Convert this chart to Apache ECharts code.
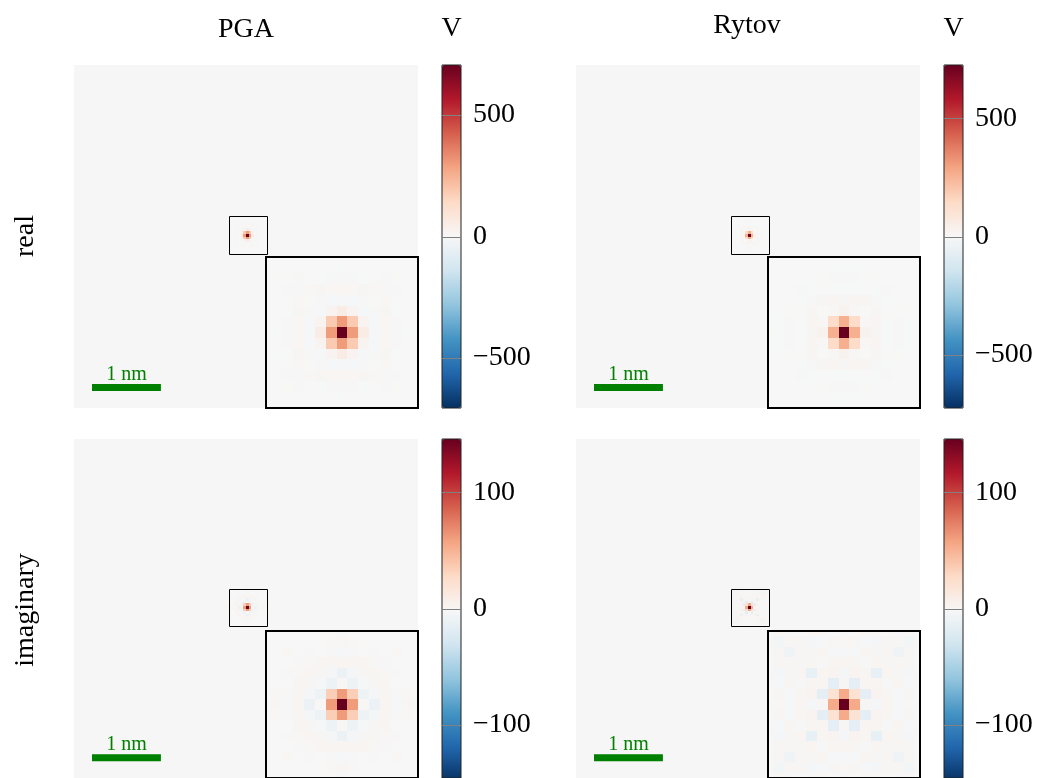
<!DOCTYPE html>
<html><head><meta charset="utf-8">
<script src="https://cdn.jsdelivr.net/npm/echarts@6/dist/echarts.min.js"></script>
<style>html,body{margin:0;padding:0;background:#fff}#chart{width:1041px;height:778px}</style>
</head><body><div id="chart"></div>
<script>
// ---------------- data ----------------
const columnTitles = ['PGA', 'Rytov'];
const rowTitles = ['real', 'imaginary'];
const colorbarUnit = 'V';
const imageSize = 128;                 // pixels per side of each reconstructed image
const patchCol0 = 57;                  // first column of the stored patch
const patchRowTop = 71;                // top row of the stored patch (origin lower)
const insetRange = [57, 71];           // zoomed region (pixel coordinates)
const colorLimits = [[705, 725], [146, 146]];          // [row][col] symmetric limits
const colorbarTicks = [[-500, 0, 500], [-100, 0, 100]]; // per row
const scaleBarNm = 1;
const pixelSizeNm = 0.039;
const scaleBarStart = [6.2, 7.15];
const scaleBarLabel = '1 nm';
const rdbuR = ['#053061','#2166ac','#4393c3','#92c5de','#d1e5f0','#f7f7f7','#fddbc7','#f4a582','#d6604d','#b2182b','#67001f'];

// 15x15 patches around the centre, rows from top to bottom
const pgaReal = [
  [1,0,-1,0,0,1,1,1,1,1,0,0,-1,0,1],
  [0,1,0,1,1,0,-1,-2,-1,0,1,1,0,1,0],
  [-1,0,2,4,0,-2,-4,-4,-4,-2,0,4,2,0,-1],
  [0,1,4,3,6,10,12,12,12,10,6,3,4,1,0],
  [0,1,0,6,2,-5,-8,-10,-8,-5,2,6,0,1,0],
  [1,0,-2,10,-5,-6,20,55,20,-6,-5,10,-2,0,1],
  [1,-1,-4,12,-8,20,185,300,185,20,-8,12,-4,-1,1],
  [1,-2,-4,12,-10,55,300,705,300,55,-10,12,-4,-2,1],
  [1,-1,-4,12,-8,20,185,300,185,20,-8,12,-4,-1,1],
  [1,0,-2,10,-5,-6,20,55,20,-6,-5,10,-2,0,1],
  [0,1,0,6,2,-5,-8,-10,-8,-5,2,6,0,1,0],
  [0,1,4,3,6,10,12,12,12,10,6,3,4,1,0],
  [-1,0,2,4,0,-2,-4,-4,-4,-2,0,4,2,0,-1],
  [0,1,0,1,1,0,-1,-2,-1,0,1,1,0,1,0],
  [1,0,-1,0,0,1,1,1,1,1,0,0,-1,0,1]
];
const rytovReal = [
  [0,0,0,0,0,1,1,2,1,1,0,0,0,0,0],
  [0,1,0,0,1,-1,-2,-2,-2,-1,1,0,0,1,0],
  [0,0,1,-1,0,2,3,4,3,2,0,-1,1,0,0],
  [0,0,-1,3,-3,0,-3,-4,-3,0,-3,3,-1,0,0],
  [0,1,0,-3,3,12,15,10,15,12,3,-3,0,1,0],
  [1,-1,2,0,12,2,5,28,5,2,12,0,2,-1,1],
  [1,-2,3,-3,15,5,135,260,135,5,15,-3,3,-2,1],
  [2,-2,4,-4,10,28,260,725,260,28,10,-4,4,-2,2],
  [1,-2,3,-3,15,5,135,260,135,5,15,-3,3,-2,1],
  [1,-1,2,0,12,2,5,28,5,2,12,0,2,-1,1],
  [0,1,0,-3,3,12,15,10,15,12,3,-3,0,1,0],
  [0,0,-1,3,-3,0,-3,-4,-3,0,-3,3,-1,0,0],
  [0,0,1,-1,0,2,3,4,3,2,0,-1,1,0,0],
  [0,1,0,0,1,-1,-2,-2,-2,-1,1,0,0,1,0],
  [0,0,0,0,0,1,1,2,1,1,0,0,0,0,0]
];
const pgaImag = [
  [0,0,0,0,0,0,0,-1,0,0,0,0,0,0,0],
  [0,0,0,0,0,0,1,2,1,0,0,0,0,0,0],
  [0,0,1,0,-1,0,-1,-2,-1,0,-1,0,1,0,0],
  [0,0,0,-1,1,3,3,3,3,3,1,-1,0,0,0],
  [0,0,-1,1,3,2,-3,-9,-3,2,3,1,-1,0,0],
  [0,0,0,3,2,-2,-8,1,-8,-2,2,3,0,0,0],
  [0,1,-1,3,-3,-8,36,62,36,-8,-3,3,-1,1,0],
  [-1,2,-2,3,-9,1,62,146,62,1,-9,3,-2,2,-1],
  [0,1,-1,3,-3,-8,36,62,36,-8,-3,3,-1,1,0],
  [0,0,0,3,2,-2,-8,1,-8,-2,2,3,0,0,0],
  [0,0,-1,1,3,2,-3,-9,-3,2,3,1,-1,0,0],
  [0,0,0,-1,1,3,3,3,3,3,1,-1,0,0,0],
  [0,0,1,0,-1,0,-1,-2,-1,0,-1,0,1,0,0],
  [0,0,0,0,0,0,1,2,1,0,0,0,0,0,0],
  [0,0,0,0,0,0,0,-1,0,0,0,0,0,0,0]
];
const rytovImag = [
  [0,1,-1,0,1,1,0,-1,0,1,1,0,-1,1,0],
  [1,-4,2,2,-3,-2,2,1,2,-2,-3,2,2,-4,1],
  [-1,2,-6,2,2,3,-2,-2,-2,3,2,2,-6,2,-1],
  [0,2,2,2,3,-1,3,3,3,-1,3,2,2,2,0],
  [1,-3,2,3,-12,3,4,-3,4,3,-12,3,2,-3,1],
  [1,-2,3,-1,3,3,-14,2,-14,3,3,-1,3,-2,1],
  [0,2,-2,3,4,-14,22,55,22,-14,4,3,-2,2,0],
  [-1,1,-2,3,-3,2,55,146,55,2,-3,3,-2,1,-1],
  [0,2,-2,3,4,-14,22,55,22,-14,4,3,-2,2,0],
  [1,-2,3,-1,3,3,-14,2,-14,3,3,-1,3,-2,1],
  [1,-3,2,3,-12,3,4,-3,4,3,-12,3,2,-3,1],
  [0,2,2,2,3,-1,3,3,3,-1,3,2,2,2,0],
  [-1,2,-6,2,2,3,-2,-2,-2,3,2,2,-6,2,-1],
  [1,-4,2,2,-3,-2,2,1,2,-2,-3,2,2,-4,1],
  [0,1,-1,0,1,1,0,-1,0,1,1,0,-1,1,0]
];
const panelData = [[pgaReal, rytovReal], [pgaImag, rytovImag]];

// ---------------- layout (styles) ----------------
const FONT = '"Liberation Serif", "DejaVu Serif", serif';
const colLeft = [74, 576];
const rowTop = [65, 439];
const mainW = 344, mainH = 343;
const insetOff = [192, 192], insetW = 152, insetH = 151;
const cbarOff = 368, cbarW = 19;

function toCells(matrix) {
  const out = [];
  matrix.forEach((row, i) => row.forEach((v, j) => out.push([patchCol0 + j, patchRowTop - i, v])));
  return out;
}

function renderCell(params, api) {
  const x = api.value(0), y = api.value(1);
  const a = api.coord([x - 0.5, y + 0.5]);
  const b = api.coord([x + 0.5, y - 0.5]);
  const x0 = Math.round(a[0]), y0 = Math.round(a[1]);
  const x1 = Math.round(b[0]), y1 = Math.round(b[1]);
  const cs = params.coordSys;
  const shape = echarts.graphic.clipRectByRect(
    { x: x0, y: y0, width: x1 - x0, height: y1 - y0 },
    { x: cs.x, y: cs.y, width: cs.width, height: cs.height });
  if (!shape) return;
  return { type: 'rect', shape: shape, style: { fill: api.visual('color') } };
}

function renderBox(params, api) {
  const a = api.coord([api.value(0), api.value(1)]);
  const b = api.coord([api.value(2), api.value(3)]);
  return {
    type: 'rect',
    shape: { x: Math.round(a[0]) + 0.5, y: Math.round(a[1]) + 0.5,
             width: Math.round(b[0] - a[0]), height: Math.round(b[1] - a[1]) },
    style: { fill: 'none', stroke: '#000', lineWidth: 1 }
  };
}

function renderScaleBar(params, api) {
  const x0 = api.value(0), y = api.value(1), len = api.value(2);
  const a = api.coord([x0, y]), b = api.coord([x0 + len, y]);
  const h = 7;
  return {
    type: 'group',
    children: [
      { type: 'rect', shape: { x: a[0], y: a[1] - h / 2, width: b[0] - a[0], height: h },
        style: { fill: '#008000' } },
      { type: 'text', x: (a[0] + b[0]) / 2, y: a[1] - h / 2 + 1,
        style: { text: scaleBarLabel, fill: '#008000', font: '20px ' + FONT,
                 align: 'center', verticalAlign: 'bottom' } }
    ]
  };
}

function renderTick(params, api) {
  const v = api.value(0);
  const a = api.coord([0, v]), b = api.coord([1, v]);
  const y = Math.round(a[1]) + 0.5;
  return { type: 'line', shape: { x1: a[0], y1: y, x2: b[0], y2: y },
           style: { stroke: '#808080', lineWidth: 1 } };
}

const fmtTick = v => v < 0 ? '\u2212' + Math.abs(v) : String(v);

const grid = [], xAxis = [], yAxis = [], series = [], visualMap = [], graphic = [];

for (let r = 0; r < 2; r++) {
  for (let c = 0; c < 2; c++) {
    const vmax = colorLimits[r][c];
    const left = colLeft[c], top = rowTop[r];
    // main image grid
    const gMain = grid.length;
    grid.push({ left: left, top: top, width: mainW, height: mainH, show: true,
                backgroundColor: '#f6f6f6', borderWidth: 0 });
    xAxis.push({ type: 'value', gridIndex: gMain, min: -0.5, max: imageSize - 0.5, show: false });
    yAxis.push({ type: 'value', gridIndex: gMain, min: -0.5, max: imageSize - 0.5, show: false });
    // inset grid
    const gIn = grid.length;
    grid.push({ left: left + insetOff[0], top: top + insetOff[1], width: insetW, height: insetH,
                show: true, backgroundColor: 'transparent', borderColor: '#000', borderWidth: 2, z: 10 });
    xAxis.push({ type: 'value', gridIndex: gIn, min: insetRange[0], max: insetRange[1], show: false });
    yAxis.push({ type: 'value', gridIndex: gIn, min: insetRange[0], max: insetRange[1], show: false });
    // colorbar grid
    const gCb = grid.length;
    grid.push({ left: left + cbarOff, top: top, width: cbarW, height: mainH, show: true,
                backgroundColor: 'transparent', borderColor: '#222', borderWidth: 1, z: 10 });
    xAxis.push({ type: 'value', gridIndex: gCb, min: 0, max: 1, show: false });
    yAxis.push({
      type: 'value', gridIndex: gCb, min: -vmax, max: vmax, position: 'right', z: 11,
      axisLine: { show: false },
      splitLine: { show: false },
      axisTick: { show: false },
      axisLabel: { show: true, customValues: colorbarTicks[r], formatter: fmtTick,
                   fontSize: 28, fontFamily: FONT, color: '#000', margin: 12 }
    });

    const cells = toCells(panelData[r][c]);
    const sMain = series.length;
    series.push({ type: 'custom', xAxisIndex: gMain, yAxisIndex: gMain, renderItem: renderCell,
                  data: cells, silent: true, z: 2 });
    series.push({ type: 'custom', xAxisIndex: gMain, yAxisIndex: gMain, renderItem: renderBox,
                  data: [[insetRange[0], insetRange[1], insetRange[1], insetRange[0]]], silent: true, z: 5 });
    series.push({ type: 'custom', xAxisIndex: gMain, yAxisIndex: gMain, renderItem: renderScaleBar,
                  data: [[scaleBarStart[0], scaleBarStart[1], scaleBarNm / pixelSizeNm]], silent: true, z: 5 });
    const sIn = series.length;
    series.push({ type: 'custom', xAxisIndex: gIn, yAxisIndex: gIn, renderItem: renderCell,
                  data: cells, silent: true, z: 2 });
    series.push({ type: 'custom', xAxisIndex: gCb, yAxisIndex: gCb, renderItem: renderTick,
                  data: colorbarTicks[r].map(v => [v]), silent: true, z: 10 });

    visualMap.push({
      type: 'continuous', min: -vmax, max: vmax, dimension: 2, seriesIndex: [sMain, sIn],
      inRange: { color: rdbuR }, calculable: false, hoverLink: false, orient: 'vertical',
      left: left + cbarOff, top: top, itemWidth: cbarW, itemHeight: mainH, padding: 0
    });
  }
}

// titles
graphic.push({ type: 'text', x: 246, y: 30, style: { text: columnTitles[0], font: '28px ' + FONT, fill: '#000', align: 'center', verticalAlign: 'middle' } });
graphic.push({ type: 'text', x: 747, y: 26, style: { text: columnTitles[1], font: '28px ' + FONT, fill: '#000', align: 'center', verticalAlign: 'middle' } });
graphic.push({ type: 'text', x: 451.5, y: 29, style: { text: colorbarUnit, font: '28px ' + FONT, fill: '#000', align: 'center', verticalAlign: 'middle' } });
graphic.push({ type: 'text', x: 953.5, y: 29, style: { text: colorbarUnit, font: '28px ' + FONT, fill: '#000', align: 'center', verticalAlign: 'middle' } });
graphic.push({ type: 'text', x: 26, y: 236, rotation: Math.PI / 2, style: { text: rowTitles[0], font: '28px ' + FONT, fill: '#000', align: 'center', verticalAlign: 'middle' } });
graphic.push({ type: 'text', x: 26, y: 610, rotation: Math.PI / 2, style: { text: rowTitles[1], font: '28px ' + FONT, fill: '#000', align: 'center', verticalAlign: 'middle' } });

const chart = echarts.init(document.getElementById('chart'), null, { renderer: 'canvas' });
chart.setOption({
  animation: false,
  backgroundColor: '#ffffff',
  grid, xAxis, yAxis, series, visualMap, graphic
});
</script>
</body></html>
